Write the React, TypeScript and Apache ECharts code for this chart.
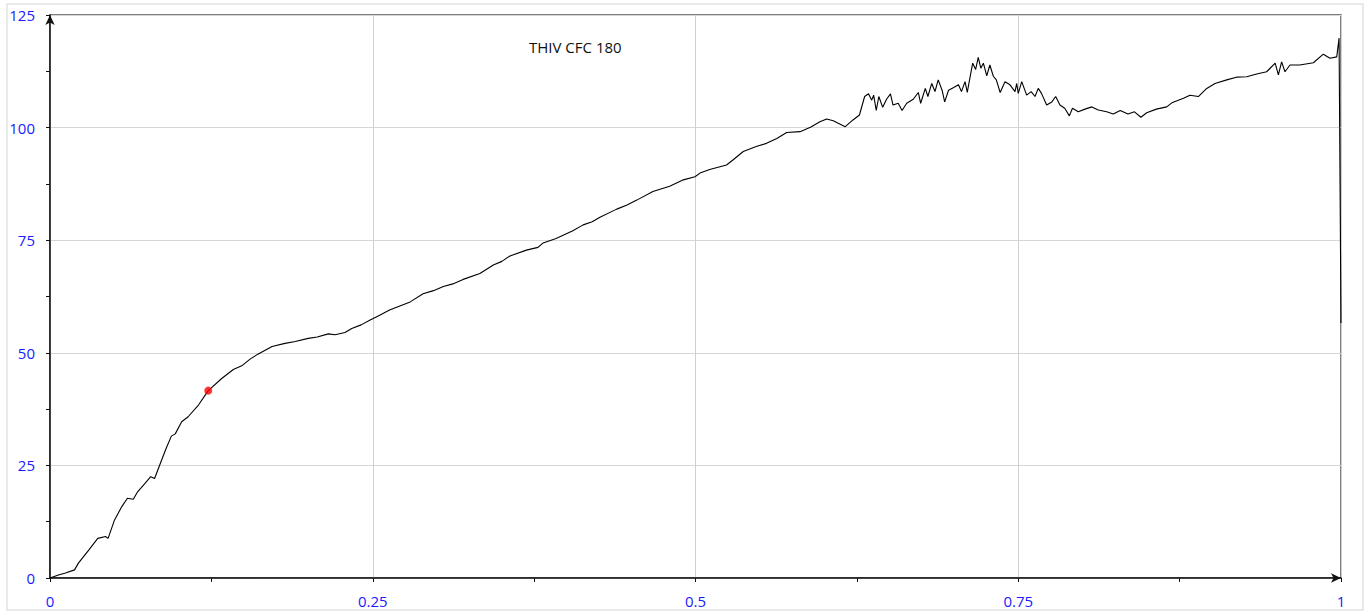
import React, { useEffect, useRef } from "react";
import * as echarts from "echarts";

const strainX = [
  0, 0.0065, 0.012, 0.019, 0.022, 0.03, 0.037, 0.043, 0.045, 0.05, 0.0555, 0.06, 0.0645, 0.068, 0.0736, 0.078, 0.081,
  0.085, 0.09, 0.094, 0.097, 0.102, 0.107, 0.115, 0.1226, 0.133, 0.142, 0.1485, 0.155, 0.161, 0.172, 0.182,
  0.19, 0.2, 0.207, 0.2156, 0.2208, 0.2285, 0.2337, 0.241, 0.248, 0.255, 0.263, 0.271, 0.279, 0.289, 0.297, 0.3047,
  0.312, 0.32, 0.333, 0.3434, 0.35, 0.3563, 0.369,
  0.378, 0.382, 0.392, 0.405, 0.413, 0.42, 0.426, 0.439, 0.447, 0.4545, 0.467, 0.48, 0.4906, 0.4996, 0.5035, 0.511, 0.524,
  0.529, 0.537, 0.547, 0.555, 0.563, 0.5706, 0.581, 0.589, 0.5964, 0.6016, 0.6067, 0.616, 0.622, 0.627, 0.631,
  0.634, 0.6365, 0.638, 0.64, 0.642, 0.645, 0.648, 0.651, 0.653, 0.657, 0.66, 0.6636, 0.6687, 0.6726, 0.6744,
  0.678, 0.68, 0.683, 0.6855, 0.688, 0.691, 0.693, 0.696, 0.7, 0.7037, 0.706, 0.7088, 0.7105, 0.713, 0.7147,
  0.717, 0.719, 0.721, 0.723, 0.7256, 0.728, 0.7307, 0.733, 0.736, 0.7397, 0.7436, 0.7475, 0.7488, 0.75, 0.7527,
  0.7565, 0.76, 0.763, 0.7655, 0.768, 0.772, 0.776, 0.779, 0.7823, 0.786, 0.7896, 0.792, 0.7965, 0.8017, 0.807,
  0.812, 0.8185, 0.8236, 0.829, 0.835, 0.84, 0.845, 0.8495, 0.857, 0.865, 0.869, 0.878, 0.883, 0.8895, 0.896,
  0.9024, 0.9115, 0.919, 0.927, 0.9347, 0.9424, 0.949, 0.9515, 0.954, 0.9566, 0.9605, 0.968, 0.9786, 0.9863,
  0.9915, 0.9967, 0.9985, 1.0,
];

const loadY = [
  0, 0.67, 1.1, 1.8, 3.3, 6.2, 8.8, 9.2, 8.8, 12.9, 15.8, 17.7, 17.5, 19.2, 21.0, 22.5, 22.1,
  25.1, 28.8, 31.5, 32.0, 34.7, 35.8, 38.4, 41.6, 44.3, 46.3, 47.1, 48.6, 49.7, 51.4, 52.1,
  52.5, 53.2, 53.5, 54.2, 54.0, 54.5, 55.4, 56.2, 57.3, 58.3, 59.5, 60.4, 61.3, 63.1, 63.8, 64.7,
  65.3, 66.3, 67.6, 69.5, 70.3, 71.5, 72.8,
  73.4, 74.4, 75.4, 77.1, 78.4, 79.1, 80.1, 81.9, 82.8, 83.9, 85.8, 87.0, 88.4, 89.1, 89.9, 90.7, 91.7,
  92.8, 94.7, 95.8, 96.5, 97.6, 98.9, 99.1, 100.1, 101.3, 101.9, 101.5, 100.2, 101.7, 102.8, 106.9,
  107.5, 106.1, 107.2, 103.8, 106.9, 104.5, 106.3, 107.5, 105.0, 105.4, 103.8, 105.4, 106.3, 107.8, 105.4,
  108.7, 106.9, 109.8, 108.0, 110.6, 108.3, 105.7, 108.3, 108.9, 109.5, 108.0, 110.2, 107.8, 111.7, 114.3,
  112.9, 115.6, 113.2, 114.3, 111.5, 113.9, 111.4, 110.6, 107.8, 110.2, 109.5, 108.0, 109.8, 107.6, 110.2,
  107.2, 108.0, 106.9, 108.7, 107.6, 105.0, 105.7, 106.9, 105.0, 104.3, 102.6, 104.3, 103.5, 104.1, 104.6,
  103.9, 103.5, 103.0, 103.8, 103.0, 103.5, 102.3, 103.3, 104.1, 104.6, 105.5, 106.5, 107.2, 106.9, 108.7,
  109.8, 110.6, 111.2, 111.3, 111.9, 112.4, 114.3, 111.7, 114.6, 112.4, 113.9, 113.9, 114.4, 116.3,
  115.4, 115.7, 119.9, 56.6,
];

const markerX = [0.1226];
const markerY = [41.6];

const titleText = "THIV CFC 180";

export default function App() {
  const ref = useRef<HTMLDivElement>(null);

  useEffect(() => {
    if (!ref.current) return;
    const chart = echarts.init(ref.current, null, { renderer: "svg" });
    const labelFont = "'Open Sans', 'Noto Sans', sans-serif";
    chart.setOption({
      animation: false,
      backgroundColor: "#ffffff",
      grid: {
        left: 50,
        top: 15,
        right: 29,
        bottom: 36,
        show: true,
        borderColor: "#555555",
        borderWidth: 1.5,
        containLabel: false,
      },
      graphic: [
        {
          type: "rect",
          shape: { x: 7, y: 4, width: 1356, height: 606 },
          style: { fill: "none", stroke: "#e2e2e2", lineWidth: 1.5 },
          silent: true,
          z: -1,
        },
        {
          type: "text",
          x: 529,
          y: 47,
          style: {
            text: titleText,
            fill: "#111",
            font: "15px " + labelFont,
            textVerticalAlign: "middle",
          },
        },
      ],
      xAxis: {
        type: "value",
        min: 0,
        max: 1,
        interval: 0.25,
        axisLine: {
          show: true,
          onZero: false,
          lineStyle: { color: "#111", width: 1.5 },
          symbol: ["none", "arrow"],
          symbolSize: [7, 10],
        },
        axisTick: { show: true, inside: false, length: 4, lineStyle: { color: "#111" } },
        minorTick: { show: true, splitNumber: 2, length: 4, lineStyle: { color: "#111" } },
        splitLine: { show: true, lineStyle: { color: "#cfcfcf", width: 1 } },
        axisLabel: {
          color: "#1a1aff",
          fontSize: 15,
          fontFamily: labelFont,
          margin: 15,
          formatter: (v: number) => String(v),
        },
      },
      yAxis: {
        type: "value",
        min: 0,
        max: 125,
        interval: 25,
        axisLine: {
          show: true,
          onZero: false,
          lineStyle: { color: "#111", width: 1.5 },
          symbol: ["none", "arrow"],
          symbolSize: [7, 10],
        },
        axisTick: { show: true, length: 4, lineStyle: { color: "#111" } },
        minorTick: { show: true, splitNumber: 2, length: 4, lineStyle: { color: "#111" } },
        splitLine: { show: true, lineStyle: { color: "#d6d6d6", width: 1 } },
        axisLabel: {
          color: "#1a1aff",
          fontSize: 15,
          fontFamily: labelFont,
          margin: 15,
        },
      },
      series: [
        {
          type: "line",
          data: strainX.map((x, i) => [x, loadY[i]]),
          showSymbol: false,
          symbol: "none",
          lineStyle: { color: "#000", width: 1.1 },
          z: 3,
        },
        {
          type: "scatter",
          data: markerX.map((x, i) => [x, markerY[i]]),
          symbolSize: 8,
          itemStyle: { color: "#ff0000" },
          z: 4,
        },
      ],
    });
    return () => chart.dispose();
  }, []);

  return (
    <div
      ref={ref}
      style={{ position: "fixed", left: 0, top: 0, width: 1370, height: 614 }}
    />
  );
}
